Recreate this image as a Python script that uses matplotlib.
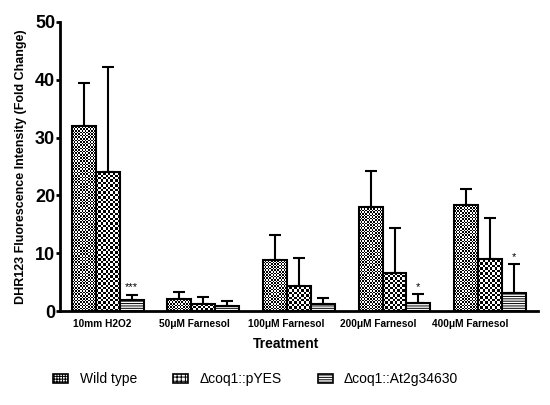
import numpy as np
import matplotlib
matplotlib.use('Agg')
import matplotlib.pyplot as plt
from matplotlib.patches import Patch

plt.rcParams['font.family'] = ['Liberation Sans', 'DejaVu Sans']
plt.rcParams['hatch.linewidth'] = 0.7

treatments = ['10mm H2O2', '50\u03bcM Farnesol', '100\u03bcM Farnesol',
              '200\u03bcM Farnesol', '400\u03bcM Farnesol']
strains = ['Wild type', '\u0394coq1::pYES', '\u0394coq1::At2g34630']

# mean and upper error (SD)
wild_type = [32.0, 2.05, 8.8, 18.0, 18.3]
wild_type_err = [7.4, 1.3, 4.3, 6.3, 2.8]
pyes = [24.0, 1.3, 4.3, 6.5, 9.0]
pyes_err = [18.2, 1.2, 4.9, 7.8, 7.1]
at2g = [1.9, 0.85, 1.15, 1.4, 3.15]
at2g_err = [0.9, 0.95, 1.15, 1.55, 5.0]
stars = ['***', '', '', '*', '*']

means = [wild_type, pyes, at2g]
errs = [wild_type_err, pyes_err, at2g_err]
# checker cells across one bar (0 = no checker, use hatch instead)
checker_cols = [15, 10, 0]
hatches = ['++++++', '++++', '-------']

fig = plt.figure(figsize=(5.5, 4.05), dpi=100)
ax = fig.add_axes([0.109, 0.232, 0.869, 0.714])
xmax, ymax = 20, 50
px_x = 0.869 * 550 / xmax
px_y = 0.714 * 405 / ymax

groups = np.arange(len(treatments)) * 4 + 2
for i in range(3):
    xs = groups - 1 + i
    if checker_cols[i]:
        bars = ax.bar(xs, means[i], width=1.0, facecolor='none',
                      edgecolor='black', linewidth=1.5, zorder=3)
        for rect in bars:
            w = rect.get_width()
            cx = w / checker_cols[i]
            cy = cx * px_x / px_y
            nrows = int(np.ceil(rect.get_height() / cy)) + 1
            cells = np.add.outer(np.arange(nrows), np.arange(checker_cols[i])) % 2
            im = ax.imshow(cells, cmap='gray', vmin=0, vmax=1, origin='lower',
                           interpolation='nearest', aspect='auto',
                           extent=(rect.get_x(), rect.get_x() + w, 0, nrows * cy),
                           zorder=2)
            im.set_clip_path(rect)
    else:
        ax.bar(xs, means[i], width=1.0, color='white', edgecolor='black',
               linewidth=1.5, hatch=hatches[i], zorder=3)
    ax.errorbar(xs, means[i], yerr=[np.zeros(5), errs[i]], fmt='none',
                ecolor='black', elinewidth=1.5, capsize=4.5, capthick=1.5,
                zorder=1)

for g, s in enumerate(stars):
    if s:
        top = at2g[g] + at2g_err[g]
        ax.text(groups[g] + 1, top + 0.4, s, ha='center', va='bottom',
                fontsize=8)

ax.set_xlim(0, xmax)
ax.set_ylim(0, ymax)
ax.set_yticks([0, 10, 20, 30, 40, 50])
# the category labels in the original sit a bit left of their groups
ax.set_xticks(1.76 + 3.85 * np.arange(len(treatments)))
ax.set_xticklabels(treatments, fontsize=7.3, fontweight='bold')
ax.tick_params(axis='x', length=0, pad=6)
ax.tick_params(axis='y', width=2, length=3, labelsize=13, pad=0.5)
for t in ax.get_yticklabels():
    t.set_fontweight('bold')
for sp in ['top', 'right']:
    ax.spines[sp].set_visible(False)
for sp in ['left', 'bottom']:
    ax.spines[sp].set_linewidth(2)

ax.set_ylabel('DHR123 Fluorescence Intensity (Fold Change)', fontsize=9,
              fontweight='bold', labelpad=6)
ax.set_xlabel('Treatment', fontsize=10, fontweight='bold')
ax.xaxis.set_label_coords(0.473, -0.09)

handles = [Patch(facecolor='white', edgecolor='black', linewidth=1.2,
                 hatch=h, label=s) for h, s in zip(hatches, strains)]
fig.legend(handles=handles, loc='center left', bbox_to_anchor=(0.074, 0.064),
           ncol=3, frameon=False, fontsize=10, handlelength=1.1,
           handleheight=0.6, columnspacing=2.6, handletextpad=0.8)

fig.savefig('out.png', dpi=100)
